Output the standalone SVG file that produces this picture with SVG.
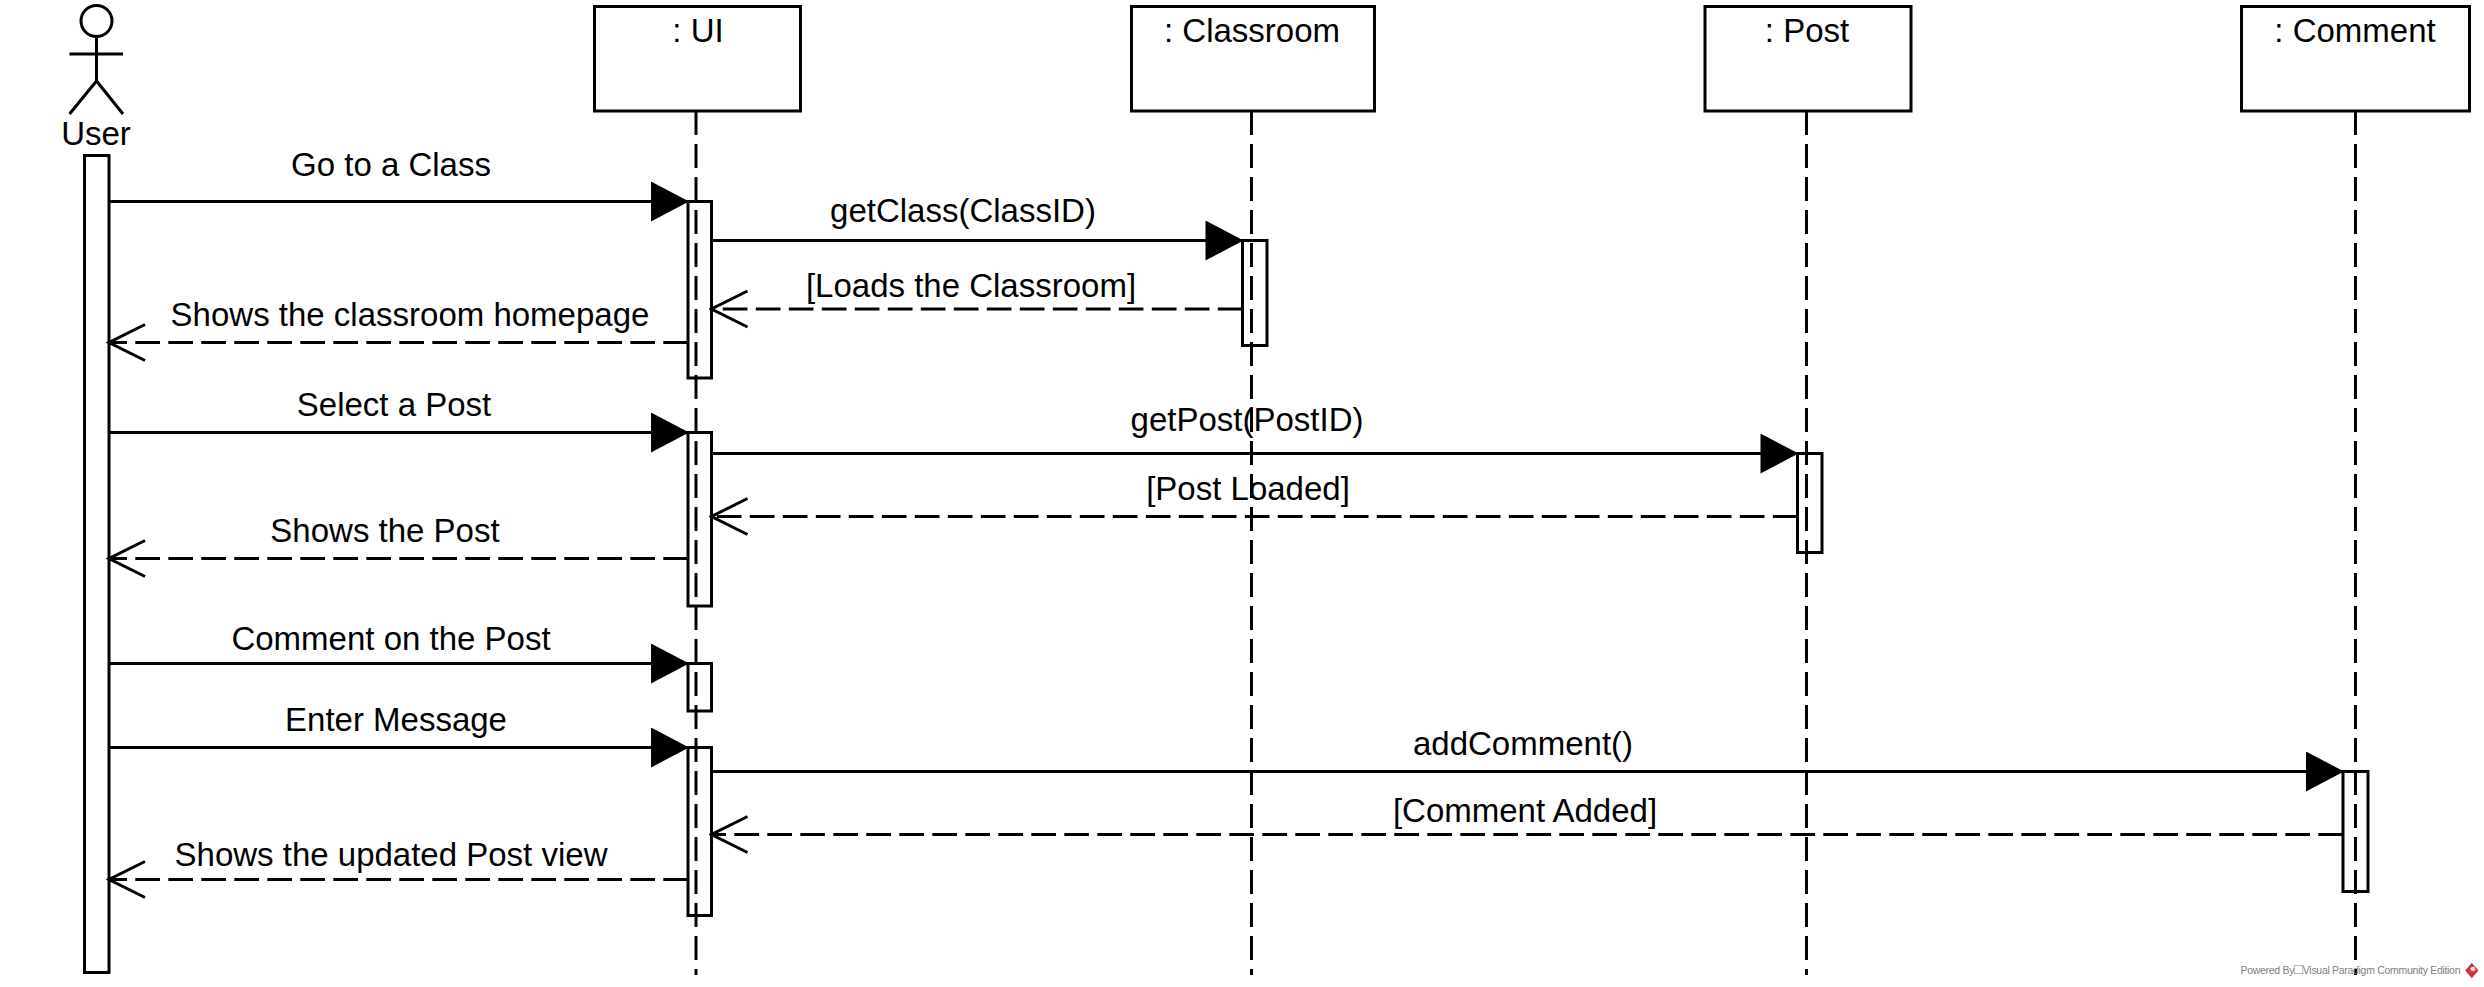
<svg xmlns="http://www.w3.org/2000/svg" width="2484" height="987" viewBox="0 0 2484 987">
<style>
text{font-family:"Liberation Sans",Arial,sans-serif;font-size:33px;fill:#000;text-anchor:middle}
.s{fill:#fff;stroke:#000;stroke-width:3}
.l{fill:none;stroke:#000;stroke-width:3}
.ll{fill:none;stroke:#000;stroke-width:3;stroke-dasharray:24 9}
.a{fill:none;stroke:#000;stroke-width:3}
.d{fill:none;stroke:#000;stroke-width:3;stroke-dasharray:24.7 8.3}
.f{font-size:10.5px;fill:#808080;text-anchor:start}
</style>
<defs>
<marker id="fill" markerUnits="userSpaceOnUse" markerWidth="42" markerHeight="42" refX="38" refY="20" orient="auto"><path d="M1 0L39 20L1 40Z" fill="#000"/></marker>
<marker id="open" markerUnits="userSpaceOnUse" markerWidth="40" markerHeight="42" refX="37" refY="20" orient="auto"><path d="M1 2L37 20L1 38" fill="none" stroke="#000" stroke-width="3"/></marker>
</defs>
<rect width="2484" height="987" fill="#fff"/>
<g id="lifelines">
<path class="ll" d="M696 111V975"/>
<path class="ll" d="M1251.5 111V975"/>
<path class="ll" d="M1806.5 111V975"/>
<path class="ll" d="M2355.5 111V975"/>
</g>
<g id="user">
<ellipse class="l" cx="96.5" cy="21" rx="15.5" ry="15.5"/>
<path class="l" d="M96.500 36.500V81M69.500 54H123M69.500 114L96.500 81L123 114"/>
<text x="96" y="145">User</text>
<rect class="s" x="84.500" y="155.500" width="24.500" height="817"/>
</g>
<g id="ui">
<rect class="s" x="594.500" y="6.500" width="206" height="104.500"/>
<text x="698" y="41.500">: UI</text>
<rect class="l" x="688" y="201.500" width="23.500" height="176.500"/>
<rect class="l" x="688" y="432.500" width="23.500" height="173.500"/>
<rect class="l" x="688" y="663.500" width="23.500" height="47.500"/>
<rect class="l" x="688" y="747.500" width="23.500" height="168"/>
</g>
<g id="classroom">
<rect class="s" x="1131.500" y="6.500" width="243" height="104.500"/>
<text x="1252" y="41.500">: Classroom</text>
<rect class="l" x="1242.500" y="240.500" width="24.500" height="105"/>
</g>
<g id="post">
<rect class="s" x="1705" y="6.500" width="206" height="104.500"/>
<text x="1807" y="41.500">: Post</text>
<rect class="l" x="1797.500" y="453.500" width="24.500" height="99"/>
</g>
<g id="comment">
<rect class="s" x="2241.500" y="6.500" width="228" height="104.500"/>
<text x="2355" y="41.500">: Comment</text>
<rect class="l" x="2343" y="771.500" width="25" height="120"/>
</g>
<g id="connectors">
<path class="a" marker-end="url(#fill)" d="M109 201.500H688"/>
<path class="a" marker-end="url(#fill)" d="M711.500 240.500H1242.500"/>
<path class="d" marker-end="url(#open)" d="M1242.500 309H711.500"/>
<path class="d" marker-end="url(#open)" d="M688 342.500H109"/>
<path class="a" marker-end="url(#fill)" d="M109 432.500H688"/>
<path class="a" marker-end="url(#fill)" d="M711.500 453.500H1797.500"/>
<path class="d" marker-end="url(#open)" d="M1797.500 516.500H711.500"/>
<path class="d" marker-end="url(#open)" d="M688 558.500H109"/>
<path class="a" marker-end="url(#fill)" d="M109 663.500H688"/>
<path class="a" marker-end="url(#fill)" d="M109 747.500H688"/>
<path class="a" marker-end="url(#fill)" d="M711.500 771.500H2343"/>
<path class="d" marker-end="url(#open)" d="M2343 834.500H711.500"/>
<path class="d" marker-end="url(#open)" d="M688 879.500H109"/>
</g>
<g id="labels">
<text x="391" y="176">Go to a Class</text>
<text x="963" y="222">getClass(ClassID)</text>
<text x="971" y="297">[Loads the Classroom]</text>
<text x="410" y="326">Shows the classroom homepage</text>
<text x="394" y="415.500">Select a Post</text>
<text x="1247" y="431">getPost(PostID)</text>
<text x="1248" y="499.500">[Post Loaded]</text>
<text x="385" y="542">Shows the Post</text>
<text x="391" y="650">Comment on the Post</text>
<text x="396" y="731">Enter Message</text>
<text x="1523" y="755">addComment()</text>
<text x="1525" y="822">[Comment Added]</text>
<text x="391" y="866">Shows the updated Post view</text>
</g>
<g id="watermark">
<text class="f" x="2240.500" y="974" textLength="220" lengthAdjust="spacing">Powered By<tspan font-size="15">□</tspan>Visual Paradigm Community Edition</text>
<path d="M2471.800 962.700L2478.500 970.500L2471.800 978.300L2465.200 970.500Z" fill="#d0343a"/>
<path d="M2470 968L2474 966.500L2475.500 970L2472 971.500Z" fill="#fff"/>
</g>
</svg>
